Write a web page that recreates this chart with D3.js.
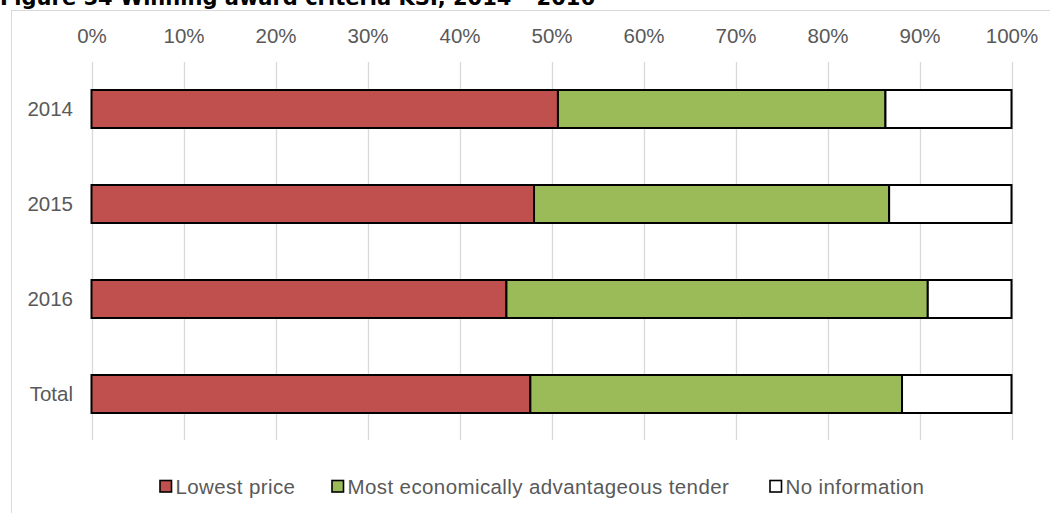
<!DOCTYPE html>
<html>
<head>
<meta charset="utf-8">
<script src="https://cdn.jsdelivr.net/npm/d3@7"></script>
<style>
  html, body { margin: 0; padding: 0; background: #fff; }
  svg { display: block; }
</style>
</head>
<body>
<div id="chart"></div>
<script>
// Share of contracts by winning award criterion (percent)
const categories = ["2014", "2015", "2016", "Total"];
const seriesNames = ["Lowest price", "Most economically advantageous tender", "No information"];
const lowestPrice = [50.7, 48.1, 45.1, 47.7];
const meat = [35.6, 38.6, 45.8, 40.4];
const noInformation = [13.7, 13.3, 9.1, 11.9];
const tickValues = [0, 10, 20, 30, 40, 50, 60, 70, 80, 90, 100];
const colors = ["#c0504d", "#9bbb59", "#ffffff"];

const width = 1050, height = 513;
const fontFamily = "Liberation Sans, Arial, sans-serif";
const svg = d3.select("#chart").append("svg")
  .attr("width", width).attr("height", height);

// Figure title, partly clipped by the top edge
svg.append("text")
  .attr("x", 0).attr("y", 4.5)
  .attr("font-family", "DejaVu Sans, Verdana, sans-serif")
  .attr("font-weight", "bold")
  .attr("font-size", 21)
  .attr("fill", "#000")
  .text("Figure 54 Winning award criteria KSI, 2014 \u2013 2016");

// Chart frame
svg.append("rect")
  .attr("x", 11.5).attr("y", 10.5)
  .attr("width", 1060).attr("height", 520)
  .attr("fill", "none")
  .attr("stroke", "#d9d9d9")
  .attr("stroke-width", 1);

const x = d3.scaleLinear().domain([0, 100]).range([91.5, 1011.5]);
const y = d3.scaleBand().domain(categories)
  .range([61.5, 441.5]).paddingInner(0.6).paddingOuter(0.3);

// Vertical gridlines
svg.append("g").selectAll("line").data(tickValues).join("line")
  .attr("x1", d => Math.round(x(d)) + 0.5).attr("x2", d => Math.round(x(d)) + 0.5)
  .attr("y1", 62).attr("y2", 440)
  .attr("stroke", "#d9d9d9").attr("stroke-width", 1.3);

// Top percentage axis
const xAxis = svg.append("g")
  .attr("transform", "translate(0,42.5)")
  .call(d3.axisTop(x).tickValues(tickValues).tickFormat(d => d + "%").tickSize(0).tickPadding(0));
xAxis.select(".domain").remove();
xAxis.selectAll("text")
  .attr("font-family", fontFamily)
  .attr("font-size", 20.5)
  .attr("fill", "#595959");

// Category axis
const yAxis = svg.append("g")
  .attr("transform", "translate(73,0)")
  .call(d3.axisLeft(y).tickSize(0).tickPadding(0));
yAxis.select(".domain").remove();
yAxis.selectAll("text")
  .attr("font-family", fontFamily)
  .attr("font-size", 20.5)
  .attr("fill", "#595959");

// Stacked bars
const rows = categories.map((c, i) => ({
  category: c,
  "Lowest price": lowestPrice[i],
  "Most economically advantageous tender": meat[i],
  "No information": noInformation[i]
}));
const stacked = d3.stack().keys(seriesNames)(rows);

svg.append("g").selectAll("g").data(stacked).join("g")
  .attr("fill", (d, i) => colors[i])
  .selectAll("rect").data(d => d).join("rect")
  .attr("x", d => x(d[0]))
  .attr("y", d => y(d.data.category))
  .attr("width", d => x(d[1]) - x(d[0]))
  .attr("height", y.bandwidth())
  .attr("stroke", "#000")
  .attr("stroke-width", 2);

// Legend
const legendX = [160, 332, 770];
const legend = svg.append("g").selectAll("g").data(seriesNames).join("g")
  .attr("transform", (d, i) => `translate(${legendX[i]},480.5)`);
legend.append("rect")
  .attr("width", 11.5).attr("height", 11.5)
  .attr("fill", (d, i) => colors[i])
  .attr("stroke", "#000").attr("stroke-width", 1.6);
legend.append("text")
  .attr("x", 15.5).attr("y", 13)
  .attr("font-family", fontFamily)
  .attr("font-size", 20.5)
  .attr("letter-spacing", 0.4)
  .attr("fill", "#595959")
  .text(d => d);
</script>
</body>
</html>
